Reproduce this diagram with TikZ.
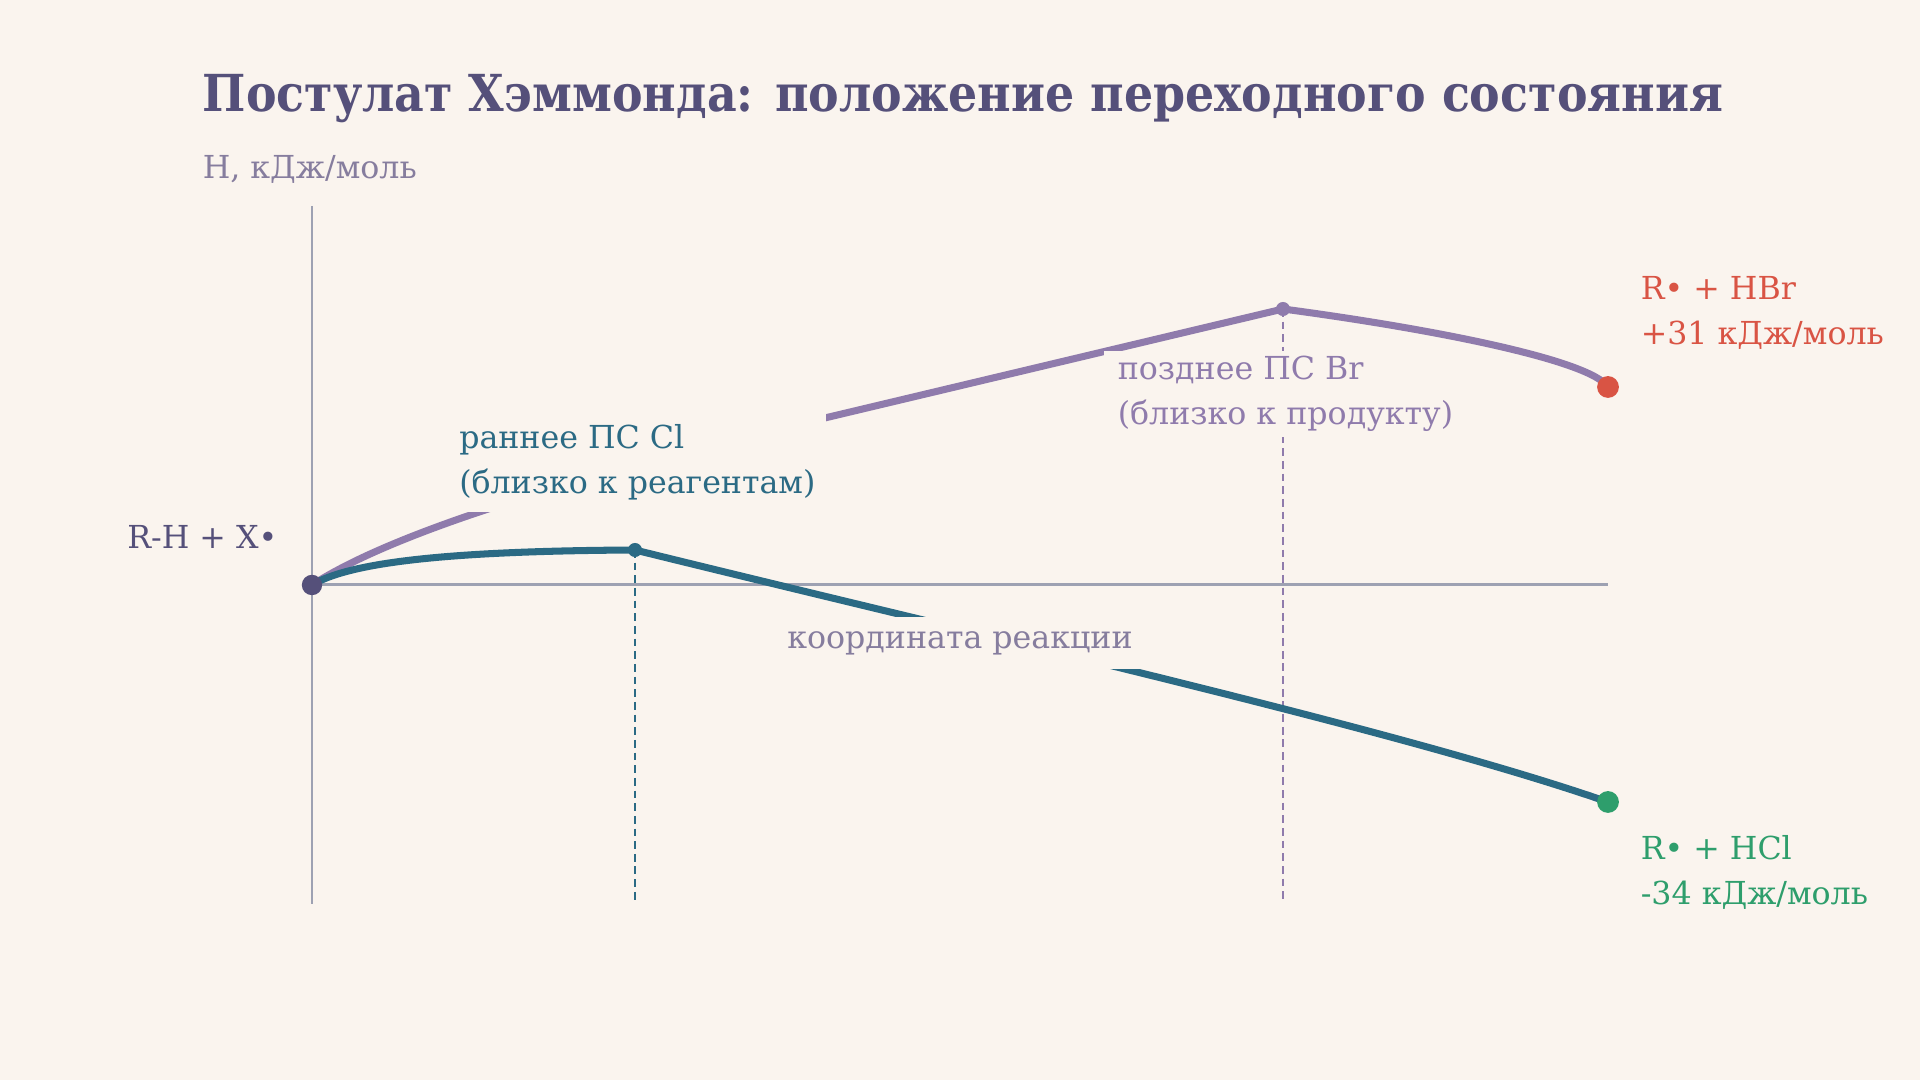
\documentclass[tikz,border=0pt]{standalone}
\usepackage{fontspec}
\setmainfont{DejaVu Serif}
\newfontfamily\titlefont{DejaVu Serif}[FakeStretch=0.9]
\usepackage{tikz}
\usetikzlibrary{positioning}

\definecolor{bg}{HTML}{FAF4EE}
\definecolor{ink}{HTML}{55507A}
\definecolor{axisgrey}{HTML}{9DA1B2}
\definecolor{axislbl}{HTML}{867D9E}
\definecolor{brpurple}{HTML}{8F7BAC}
\definecolor{clteal}{HTML}{2B6A84}
\definecolor{hbrred}{HTML}{D95444}
\definecolor{hclgreen}{HTML}{2E9E6C}

\tikzset{
  lbl/.style={font=\fontsize{9}{12.8}\selectfont, align=left, anchor=west, fill=bg, inner xsep=4pt, inner ysep=2.5pt},
  dot/.style={circle, inner sep=0pt, minimum size=#1},
  dot/.default=6pt,
  curve/.style={line width=2pt, line cap=round},
  guide/.style={line width=0.6pt, dash pattern=on 2.2pt off 1.4pt}
}

\begin{document}
\begin{tikzpicture}
    [x=0.01cm,y=-0.01cm]
    \fill[bg] (0,0) rectangle (1920,1080);
    \useasboundingbox (0,0) rectangle (1920,1080);

    \coordinate (o) at (312,585);
    \coordinate (tscl) at (635,550);
    \coordinate (tsbr) at (1283,309);
    \coordinate (brbend) at (808,422);
    \coordinate (phbr) at (1608,387);
    \coordinate (phcl) at (1608,802);
    \coordinate (ytop) at (312,206);
    \coordinate (ybot) at (312,904);
    \coordinate (xend) at (1608,585);
    \coordinate (clfoot) at (635,904);
    \coordinate (brfoot) at (1283,904);

    % axes
    \draw[axisgrey, line width=0.85pt] (ytop) -- (ybot);
    \draw[axisgrey, line width=0.85pt] (o) -- (xend);

    \draw[guide, clteal] (tscl) -- (clfoot);
    \draw[guide, brpurple] (tsbr) -- (brfoot);

    \draw[curve, brpurple] (o) .. controls (412,520) and (648,460) .. (brbend) -- (tsbr)
        .. controls (1433,329) and (1590,360) .. (phbr);
    \draw[curve, clteal] (o) .. controls (350,562) and (450,551) .. (tscl)
        .. controls (1000,640) and (1400,730) .. (phcl);

    \node[font=\titlefont\bfseries\fontsize{14.5}{17}\selectfont, text=ink, anchor=west, inner sep=0pt] (title) at (202,99) {Постулат Хэммонда: положение переходного состояния};
    \node[lbl, text=axislbl] (ylbl) at (188,169) {H, кДж/моль};
    \node[lbl, text=ink, anchor=east] (start) at (292,537) {R-H + X•};
    \node[lbl, text=clteal, inner ysep=3.5pt, inner xsep=3pt] (cllbl) at (448,462) {раннее ПС Cl\\(близко к реагентам)};
    \node[lbl, text=brpurple, inner ysep=1.5pt] (brlbl) at (1103,394) {позднее ПС Br\\(близко к продукту)};
    \node[lbl, text=hbrred] (hbrlbl) at (1626,313) {R• + HBr\\+31 кДж/моль};
    \node[lbl, text=hclgreen] (hcllbl) at (1626,872) {R• + HCl\\-34 кДж/моль};
    \node[lbl, text=axislbl, anchor=center, inner xsep=14pt, inner ysep=4pt] (xlbl) at (960,643) {координата реакции};

    \node[dot=5.8pt, fill=ink] at (o) {};
    \node[dot=4pt, fill=clteal] at (tscl) {};
    \node[dot=4pt, fill=brpurple] at (tsbr) {};
    \node[dot=6.2pt, fill=hbrred] at (phbr) {};
    \node[dot=6.2pt, fill=hclgreen] at (phcl) {};

  \end{tikzpicture}
\end{document}
